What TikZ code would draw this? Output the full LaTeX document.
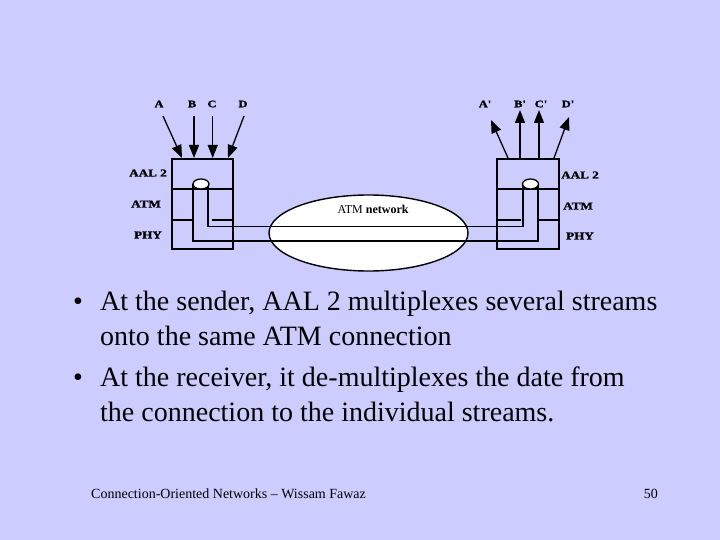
\documentclass[tikz,border=0pt]{standalone}
\usepackage{fontspec}
\setmainfont{Liberation Serif}
\newfontfamily\lblfont[FakeStretch=1.25,FakeBold=1.5]{Liberation Serif Bold}
\usetikzlibrary{arrows.meta,shapes.geometric}
\definecolor{bg}{HTML}{CCCCFF}
\tikzset{
  boxline/.style={line width=1.3pt, black},
  lbl/.style={font=\lblfont\fontsize{10.5}{12}\selectfont, inner sep=0pt},
  toplbl/.style={font=\lblfont\fontsize{10}{11}\selectfont, inner sep=0pt},
  arr/.style={line width=1.3pt, -{Triangle[length=13pt,width=10pt]}},
  bullettext/.style={font=\fontsize{28}{32}\selectfont, inner sep=0pt, anchor=base west},
  foot/.style={font=\fontsize{14}{16}\selectfont, inner sep=0pt, anchor=base west},
}
\begin{document}
\begin{tikzpicture}[x=1pt,y=-1pt]
\fill[bg] (0,0) rectangle (720,540);
\useasboundingbox (0,0) rectangle (720,540);

% network cloud
\node[draw, line width=1.4pt, fill=white, ellipse, minimum width=199pt, minimum height=76pt, inner sep=0pt] (net) at (368.5,233) {};
\node[font=\fontsize{12}{14}\selectfont, inner sep=0pt] (netlbl) at (373,209) {ATM \textbf{network}};

% boxes
\node[draw, boxline, minimum width=61pt, minimum height=90pt, inner sep=0pt] (lbox) at (202.5,204) {};
\node[draw, boxline, minimum width=62pt, minimum height=90pt, inner sep=0pt] (rbox) at (528,204) {};
\draw[boxline] (lbox.west |- 0,189) -- (lbox.east |- 0,189);
\draw[boxline] (rbox.west |- 0,189) -- (rbox.east |- 0,189);
\draw[boxline] (lbox.west |- 0,220) -- (193,220);
\draw[boxline] (212,220) -- (lbox.east |- 0,220);
\draw[boxline] (rbox.west |- 0,220) -- (521,220);
\draw[boxline] (538,220) -- (rbox.east |- 0,220);

% connection paths
\coordinate (lo) at (193,184);
\coordinate (li) at (208,184);
\coordinate (ri) at (523,184);
\coordinate (ro) at (538,184);
\draw[line width=1.4pt] (li) |- (523,226.7) -- (ri);
\draw[line width=1.4pt] (lo) -- (193,240.7);
\draw[line width=1.4pt] (ro) -- (538,240.7);
\draw[line width=2.2pt] (192.3,240.7) -- (538.7,240.7);

% small ellipses
\node[draw, line width=1.3pt, fill=white, ellipse, minimum width=16pt, minimum height=10pt, inner sep=0pt] (le) at (201,184) {};
\node[draw, line width=1.3pt, fill=white, ellipse, minimum width=16pt, minimum height=10pt, inner sep=0pt] (re) at (530.5,184) {};

% layer labels
\node[lbl] (laal) at (148,173) {AAL 2};
\node[lbl] (latm) at (146,204) {ATM};
\node[lbl] (lphy) at (148,235) {PHY};
\node[lbl] (raal) at (580,175) {AAL 2};
\node[lbl] (ratm) at (578,206) {ATM};
\node[lbl] (rphy) at (580,236) {PHY};

% top labels
\node[toplbl] (a) at (159,104) {A};
\node[toplbl] (b) at (192,104) {B};
\node[toplbl] (c) at (212,104) {C};
\node[toplbl] (d) at (243,104) {D};
\node[toplbl] (a2) at (485,104) {A'};
\node[toplbl] (b2) at (520,104) {B'};
\node[toplbl] (c2) at (541,104) {C'};
\node[toplbl] (d2) at (568,104) {D'};

% arrows
\coordinate (as) at (163,116); \coordinate (ae) at (182,158);
\coordinate (bs) at (194,116); \coordinate (be) at (194,158);
\coordinate (cs) at (212.7,116); \coordinate (ce) at (212.7,158);
\coordinate (ds) at (244,116); \coordinate (de) at (228,158);
\draw[arr] (as) -- (ae);
\draw[arr] (bs) -- (be);
\draw[arr] (cs) -- (ce);
\draw[arr] (ds) -- (de);
\coordinate (a2s) at (508,158); \coordinate (a2e) at (491,120);
\coordinate (b2s) at (520,158); \coordinate (b2e) at (520,110);
\coordinate (c2s) at (539,158); \coordinate (c2e) at (539,110);
\coordinate (d2s) at (554,158); \coordinate (d2e) at (569,117);
\draw[arr] (a2s) -- (a2e);
\draw[arr] (b2s) -- (b2e);
\draw[arr] (c2s) -- (c2e);
\draw[arr] (d2s) -- (d2e);

% bullet text
\node[bullettext] (b1) at (73,310) {\textbullet};
\node[bullettext] (t1) at (100,310) {At the sender, AAL 2 multiplexes several streams};
\node[bullettext] (t2) at (100,345) {onto the same ATM connection};
\node[bullettext] (b2) at (73,386) {\textbullet};
\node[bullettext] (t3) at (100,386) {At the receiver, it de-multiplexes the date from};
\node[bullettext] (t4) at (100,421) {the connection to the individual streams.};

% footer
\node[foot] (f1) at (91,498) {Connection-Oriented Networks -- Wissam Fawaz};
\node[foot, anchor=base east] (f2) at (658,498) {50};
\end{tikzpicture}
\end{document}
